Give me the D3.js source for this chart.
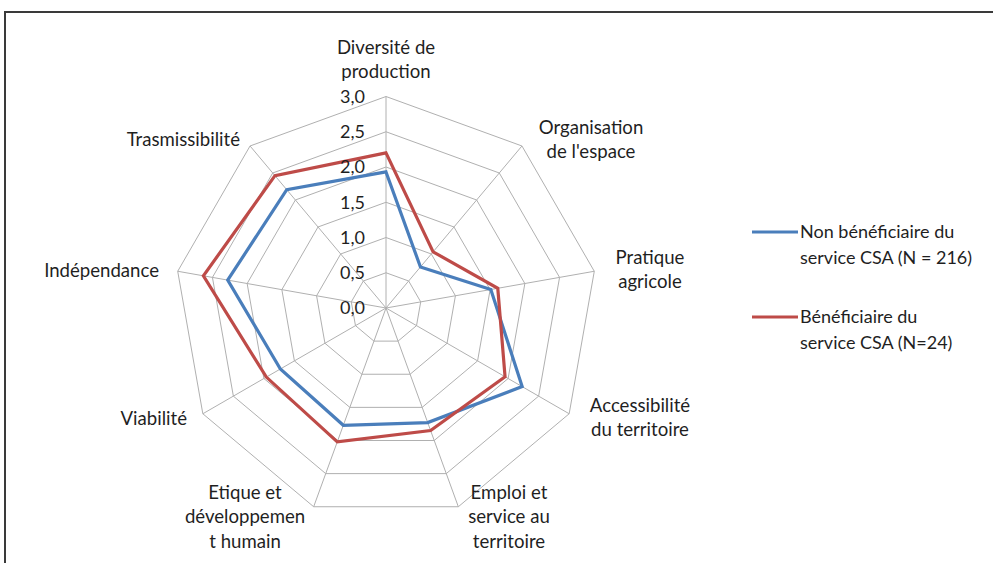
<!DOCTYPE html>
<meta charset="utf-8">
<script src="https://d3js.org/d3.v7.min.js"></script>
<style>
  body { margin: 0; background: #fff; }
  text { font-family: Lato, "Open Sans", sans-serif; fill: #1f1f1f; }
</style>
<div id="radar"></div>
<script>

// axes of the radar (clockwise from the top)
const axes = [
  ["Diversité de", "production"],
  ["Organisation", "de l'espace"],
  ["Pratique", "agricole"],
  ["Accessibilité", "du territoire"],
  ["Emploi et", "service au", "territoire"],
  ["Etique et", "développemen", "t humain"],
  ["Viabilité"],
  ["Indépendance"],
  ["Trasmissibilité"]
];

// series
const seriesNames = ["Non bénéficiaire du|service CSA (N = 216)", "Bénéficiaire du|service CSA (N=24)"];
const nonBenef = [1.93, 0.76, 1.51, 2.23, 1.73, 1.77, 1.73, 2.28, 2.19];
const benef = [2.20, 1.04, 1.61, 1.95, 1.85, 2.02, 1.96, 2.63, 2.45];
const colours = ["#4a7ebb", "#be4b48"];

// tick labels
const ticks = [0, 0.5, 1.0, 1.5, 2.0, 2.5, 3.0];

const width = 993, height = 563;
const cx = 386, cy = 308;

const svg = d3.select("#radar")
  .append("svg")
    .attr("width", width)
    .attr("height", height);

// chart frame
svg.append("rect")
  .attr("x", 5).attr("y", 12)
  .attr("width", 1000).attr("height", 600)
  .attr("fill", "none")
  .attr("stroke", "#3a3a3a")
  .attr("stroke-width", 2);

const g = svg.append("g").attr("transform", `translate(${cx}, ${cy})`);

const r = d3.scaleLinear().domain([0, 3]).range([0, 211.5]);
const angle = d3.scaleLinear().domain([0, axes.length]).range([0, 2 * Math.PI]);

const radial = d3.lineRadial()
  .angle((d, i) => angle(i))
  .radius(d => r(d))
  .curve(d3.curveLinearClosed);

// grid polygons
g.selectAll(".grid")
  .data(ticks.slice(1))
  .join("path")
    .attr("d", t => radial(axes.map(() => t)))
    .attr("fill", "none")
    .attr("stroke", "#b0b0b0")
    .attr("stroke-width", 1);

// spokes
g.selectAll(".spoke")
  .data(axes)
  .join("line")
    .attr("x1", 0).attr("y1", 0)
    .attr("x2", (d, i) => r(3) * Math.sin(angle(i)))
    .attr("y2", (d, i) => -r(3) * Math.cos(angle(i)))
    .attr("stroke", "#b0b0b0")
    .attr("stroke-width", 1);

// series lines
g.selectAll(".series")
  .data([nonBenef, benef])
  .join("path")
    .attr("d", radial)
    .attr("fill", "none")
    .attr("stroke", (d, i) => colours[i])
    .attr("stroke-width", 3.2)
    .attr("stroke-linejoin", "miter");

// tick labels
g.selectAll(".tick")
  .data(ticks)
  .join("text")
    .attr("x", -21)
    .attr("y", t => -r(t))
    .attr("dy", "0.36em")
    .attr("text-anchor", "end")
    .attr("font-size", "18px")
    .text(t => t.toFixed(1).replace(".", ","));

// axis labels (x, y of first line, anchor)
const labelPos = [
  [0, -261, "middle"], [205, -181, "middle"], [264, -51, "middle"],
  [254, 97, "middle"], [123, 184, "middle"], [-141, 184, "middle"],
  [-199, 110, "end"], [-227, -38, "end"], [-146, -169, "end"]
];

g.selectAll(".axisLabel")
  .data(axes)
  .join("text")
    .attr("text-anchor", (d, i) => labelPos[i][2])
    .attr("font-size", "18.6px")
    .each(function(d, i) {
      d3.select(this).selectAll("tspan")
        .data(d)
        .join("tspan")
          .attr("x", labelPos[i][0])
          .attr("y", (s, j) => labelPos[i][1] + j * 24.5)
          .attr("dy", "0.36em")
          .text(s => s);
    });

// legend
const legend = svg.append("g");
seriesNames.forEach((name, i) => {
  const y = 232 + i * 85;
  legend.append("line")
    .attr("x1", 752).attr("x2", 798)
    .attr("y1", y).attr("y2", y)
    .attr("stroke", colours[i])
    .attr("stroke-width", 3.2);
  legend.append("text")
    .attr("font-size", "18px")
    .selectAll("tspan")
    .data(name.split("|"))
    .join("tspan")
      .attr("x", 800)
      .attr("y", (s, j) => y + j * 25.5)
      .attr("dy", "0.36em")
      .text(s => s);
});
</script>
